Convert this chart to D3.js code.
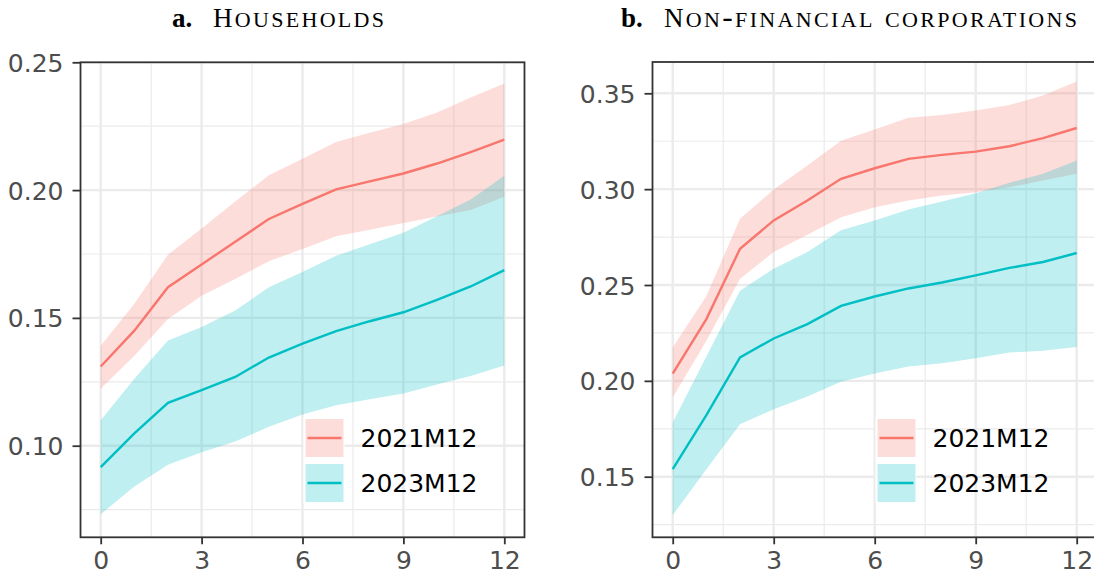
<!DOCTYPE html>
<meta charset="utf-8">
<style>
body{margin:0;background:white;}
svg{display:block;}
.tick-label{font-family:"DejaVu Sans",sans-serif;font-size:25px;fill:#4d4d4d;}
.legend-label{font-family:"DejaVu Sans",sans-serif;font-size:25px;fill:#000;}
.title{font-family:"Liberation Serif",serif;fill:#000;}
</style>
<body>
<script src="https://cdn.jsdelivr.net/npm/d3@7"></script>
<script>
// horizon in months
var months = [0,1,2,3,4,5,6,7,8,9,10,11,12];
var seriesNames = ["2021M12","2023M12"];
var seriesColors = ["#F8766D","#00BFC4"];

// a. households
var hh2021 = [0.131,0.145,0.162,0.1709,0.1798,0.1887,0.1946,0.2003,0.2034,0.2065,0.2104,0.2149,0.2197];
var hh2021Hi = [0.1391,0.1555,0.1747,0.185,0.1955,0.2058,0.2123,0.2188,0.2224,0.2259,0.2304,0.2362,0.2417];
var hh2021Lo = [0.1223,0.1352,0.1496,0.1587,0.1652,0.1722,0.177,0.1819,0.1845,0.1871,0.1897,0.1922,0.1974];
var hh2023 = [0.0916,0.1048,0.1168,0.1217,0.1269,0.1345,0.1399,0.1448,0.1487,0.1522,0.1571,0.1623,0.1687];
var hh2023Hi = [0.11,0.1262,0.1412,0.1464,0.1529,0.162,0.168,0.1743,0.1788,0.1833,0.1898,0.1963,0.2056];
var hh2023Lo = [0.0732,0.084,0.0925,0.0974,0.1016,0.1074,0.1122,0.1158,0.1182,0.1204,0.1239,0.1273,0.1314];

// b. non-financial corporations
var nfc2021 = [0.2038,0.2322,0.2689,0.2837,0.2941,0.3054,0.3109,0.3158,0.3179,0.3196,0.3224,0.3266,0.3319];
var nfc2021Hi = [0.2174,0.2443,0.2845,0.2998,0.3123,0.3253,0.3311,0.3372,0.3387,0.341,0.3439,0.3488,0.3561];
var nfc2021Lo = [0.1913,0.2209,0.2533,0.2672,0.2762,0.2854,0.2906,0.2941,0.2967,0.2984,0.301,0.3045,0.308];
var nfc2023 = [0.1539,0.1821,0.2122,0.2221,0.2296,0.2391,0.244,0.2482,0.2513,0.255,0.2589,0.262,0.2667];
var nfc2023Hi = [0.1783,0.2127,0.247,0.2585,0.2672,0.2785,0.2837,0.2894,0.2936,0.2979,0.3033,0.308,0.3149];
var nfc2023Lo = [0.1299,0.1539,0.1774,0.1852,0.1918,0.1995,0.2038,0.2075,0.2092,0.2118,0.2148,0.2157,0.2177];

var xTicks = [0,3,6,9,12];
var xMinor = [1.5,4.5,7.5,10.5];
var hhTicks = [0.10,0.15,0.20,0.25];
var hhMinor = [0.075,0.125,0.175,0.225];
var nfcTicks = [0.15,0.20,0.25,0.30,0.35];
var nfcMinor = [0.125,0.175,0.225,0.275,0.325];

var svg = d3.select("body").append("svg").attr("width",1094).attr("height",575);

function drawPanel(p){
  var x = d3.scaleLinear().domain([0,12]).range(p.xRange);
  var y = d3.scaleLinear().domain(p.yDomain).range(p.yRange);
  var left = x(-0.6), right = x(12.6), top = p.top, bottom = 537.3;
  var g = svg.append("g");
  var clipId = "clip-" + p.id;
  g.append("clipPath").attr("id",clipId).append("rect")
    .attr("x",left).attr("y",top).attr("width",right-left).attr("height",bottom-top);

  g.append("rect").attr("x",left).attr("y",top).attr("width",right-left).attr("height",bottom-top).attr("fill","white");

  var grid = g.append("g").attr("clip-path","url(#"+clipId+")");
  grid.selectAll(".vminor").data(xMinor).enter().append("line")
    .attr("x1",d=>x(d)).attr("x2",d=>x(d)).attr("y1",top).attr("y2",bottom)
    .attr("stroke","#ebebeb").attr("stroke-width",1.2);
  grid.selectAll(".hminor").data(p.yMinor).enter().append("line")
    .attr("y1",d=>y(d)).attr("y2",d=>y(d)).attr("x1",left).attr("x2",right)
    .attr("stroke","#ebebeb").attr("stroke-width",1.2);
  grid.selectAll(".vmajor").data(xTicks).enter().append("line")
    .attr("x1",d=>x(d)).attr("x2",d=>x(d)).attr("y1",top).attr("y2",bottom)
    .attr("stroke","#ebebeb").attr("stroke-width",2.4);
  grid.selectAll(".hmajor").data(p.yTicks).enter().append("line")
    .attr("y1",d=>y(d)).attr("y2",d=>y(d)).attr("x1",left).attr("x2",right)
    .attr("stroke","#ebebeb").attr("stroke-width",2.4);

  var area = d3.area().x((d,i)=>x(months[i])).y0(d=>y(d[0])).y1(d=>y(d[1]));
  var line = d3.line().x((d,i)=>x(months[i])).y(d=>y(d));

  p.series.forEach(function(s,k){
    grid.append("path").datum(s.lo.map((v,i)=>[v,s.hi[i]]))
      .attr("d",area).attr("fill",seriesColors[k]).attr("fill-opacity",0.25);
  });
  p.series.forEach(function(s,k){
    grid.append("path").datum(s.mid).attr("d",line)
      .attr("fill","none").attr("stroke",seriesColors[k]).attr("stroke-width",2.4);
  });

  g.append("rect").attr("x",left).attr("y",top).attr("width",right-left).attr("height",bottom-top)
    .attr("fill","none").attr("stroke","#333333").attr("stroke-width",1.8);

  // axes
  var yAxis = g.append("g").attr("transform","translate("+left+",0)")
    .call(d3.axisLeft(y).tickValues(p.yTicks).tickFormat(d3.format(".2f")).tickSize(8).tickPadding(9));
  var xAxis = g.append("g").attr("transform","translate(0,"+bottom+")")
    .call(d3.axisBottom(x).tickValues(xTicks).tickSize(7).tickPadding(6));
  [yAxis,xAxis].forEach(function(a){
    a.select(".domain").remove();
    a.selectAll(".tick line").attr("stroke","#333333").attr("stroke-width",1.8);
    a.selectAll(".tick text").attr("class","tick-label").attr("font-family",null).attr("font-size",null);
  });
  yAxis.selectAll(".tick text").attr("dy","0.36em");
  xAxis.selectAll(".tick text").attr("dy","0.74em");

  // legend
  var lg = g.append("g");
  lg.append("rect").attr("x",p.keyX-2).attr("y",416.5).attr("width",p.keyW+3).attr("height",87).attr("fill","white");
  var keyTops = [419,464];
  seriesNames.forEach(function(name,k){
    lg.append("rect").attr("x",p.keyX).attr("y",keyTops[k]).attr("width",p.keyW).attr("height",38)
      .attr("fill",seriesColors[k]).attr("fill-opacity",0.25);
    lg.append("line").attr("x1",p.keyX+2).attr("x2",p.keyX+p.keyW-2)
      .attr("y1",keyTops[k]+19).attr("y2",keyTops[k]+19)
      .attr("stroke",seriesColors[k]).attr("stroke-width",2.4);
    lg.append("text").attr("class","legend-label").attr("x",p.keyX+p.keyW+17).attr("y",keyTops[k]+28)
      .text(name);
  });

  // title: bold panel letter, then small caps
  svg.append("text").attr("class","title").attr("x",p.titleX).attr("y",27)
    .attr("font-size",27).attr("font-weight","bold").text(p.letter);
  var t = svg.append("text").attr("class","title").attr("x",p.titleX2).attr("y",27)
    .attr("textLength",p.titleW).attr("lengthAdjust","spacing");
  t.append("tspan").attr("font-size",27).text(p.title[0]);
  t.append("tspan").attr("font-size",31.5).style("font-variant","small-caps").text(p.title.slice(1));
}

drawPanel({
  id:"a", xRange:[100.7,504.3], yDomain:[0.10,0.25], yRange:[445.7,62.3], top:62.3,
  yTicks:hhTicks, yMinor:hhMinor,
  series:[{mid:hh2021,lo:hh2021Lo,hi:hh2021Hi},{mid:hh2023,lo:hh2023Lo,hi:hh2023Hi}],
  keyX:305.5, keyW:38,
  letter:"a.", title:"Households", titleX:172, titleX2:213, titleW:171
});
drawPanel({
  id:"b", xRange:[672.7,1076.7], yDomain:[0.15,0.35], yRange:[476.7,93.3], top:62,
  yTicks:nfcTicks, yMinor:nfcMinor,
  series:[{mid:nfc2021,lo:nfc2021Lo,hi:nfc2021Hi},{mid:nfc2023,lo:nfc2023Lo,hi:nfc2023Hi}],
  keyX:877.5, keyW:38,
  letter:"b.", title:"Non-financial corporations", titleX:621, titleX2:664, titleW:413
});
</script>
